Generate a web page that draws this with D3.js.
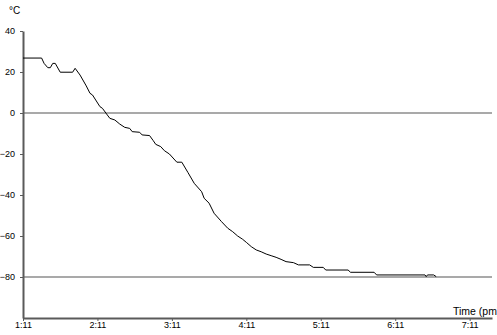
<!DOCTYPE html>
<html>
<head>
<meta charset="utf-8">
<script src="https://cdn.jsdelivr.net/npm/d3@7"></script>
<style>
  body { margin: 0; background: #fff; }
  text { font-family: Arial, "Liberation Sans", sans-serif; }
</style>
</head>
<body>
<svg></svg>
<script>
// minutes after the start (1:11 pm) and temperature in °C
const minutes = [0, 15.1, 17.2, 20.4, 22.6, 24.4, 26.4, 30.4, 40.6, 42.5, 46, 51.4, 54, 56.2,
  62.1, 64.3, 68, 70.7, 74.2, 78.2, 82.3, 86.3, 88.1, 94.4, 96.2, 102.4, 105.1, 107.8,
  111.9, 114.5, 118.5, 124, 128, 133.3, 138.7, 144.1, 146.8, 150.8, 154.8, 160.2, 165.6,
  169.6, 173.6, 177.7, 180.4, 184.4, 188.5, 192.5, 196.5, 200.6, 204.6, 208.6, 212.6,
  218, 222, 231.5, 234.1, 242.2, 244.4, 262.4, 264.3, 283.9, 285.9, 324.2, 325.6, 326.9,
  331.5, 333.1];
const tempC = [26.8, 26.8, 24.2, 22.1, 22.1, 24.2, 24.2, 19.9, 19.9, 21.8, 18.5, 13.2, 9.6, 8.8,
  3.1, 2.3, -1, -2.6, -3.4, -5.4, -7, -7.5, -9.1, -9.4, -10.7, -11, -13.5, -15.3,
  -16.4, -18.4, -20, -24, -24, -29.1, -34.3, -38.4, -41.6, -44, -48.9, -53, -56.2,
  -57.9, -60, -61.6, -63.1, -65.2, -66.8, -67.7, -68.8, -69.6, -70.4, -71.4, -72.5,
  -73, -74.1, -74.1, -75.3, -75.3, -76.6, -76.6, -77.7, -77.7, -79, -79, -79.8, -79,
  -79, -79.8];
const yTicks = [40, 20, 0, -20, -40, -60, -80];
const refLines = [0, -80];
const xTickLabels = ["1:11", "2:11", "3:11", "4:11", "5:11", "6:11", "7:11"];

const width = 497, height = 335;
const svg = d3.select('svg').attr('width', width).attr('height', height);

const start = new Date(2000, 0, 1, 13, 11);
const x = d3.scaleTime()
  .domain([start, d3.timeMinute.offset(start, 378)])
  .range([23, 492]);
const y = d3.scaleLinear().domain([-100, 40]).range([318, 31]);

const data = minutes.map((m, i) => ({ t: d3.timeMinute.offset(start, m), v: tempC[i] }));
const xTickDates = xTickLabels.map((_, i) => d3.timeHour.offset(start, i));

// reference lines
svg.selectAll('line.ref').data(refLines)
  .enter().append('line')
  .attr('class', 'ref')
  .attr('x1', x.range()[0]).attr('x2', x.range()[1])
  .attr('y1', d => y(d)).attr('y2', d => y(d))
  .attr('stroke', '#8c8c8c')
  .attr('stroke-width', 1.5);

// axes
const yAxis = svg.append('g')
  .attr('transform', `translate(${x.range()[0]},0)`)
  .call(d3.axisLeft(y).tickValues(yTicks).tickSize(3).tickSizeOuter(0).tickPadding(5));
const xAxis = svg.append('g')
  .attr('transform', `translate(0,${y(-100)})`)
  .call(d3.axisBottom(x).tickValues(xTickDates).tickSize(3).tickSizeOuter(0).tickPadding(1)
    .tickFormat((d, i) => xTickLabels[i]));

[yAxis, xAxis].forEach(g => {
  g.select('.domain').attr('stroke', '#5a5a5a').attr('stroke-width', 2);
  g.selectAll('.tick line').attr('stroke', '#5a5a5a');
  g.selectAll('.tick text').attr('fill', '#000').attr('font-size', '9px')
    .attr('font-family', 'Arial, "Liberation Sans", sans-serif');
});

// temperature line
svg.append('path')
  .datum(data)
  .attr('fill', 'none')
  .attr('stroke', '#000')
  .attr('stroke-width', 1)
  .attr('d', d3.line().x(d => x(d.t)).y(d => y(d.v)));

svg.append('text')
  .attr('x', 9).attr('y', 14)
  .attr('font-size', '10px')
  .text('°C');

svg.append('text')
  .attr('x', 453).attr('y', 315)
  .attr('font-size', '10.5px')
  .text('Time (pm)');
</script>
</body>
</html>
